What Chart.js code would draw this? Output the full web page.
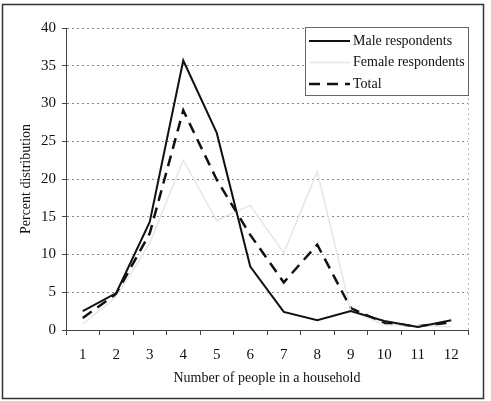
<!DOCTYPE html>
<html>
<head>
<meta charset="utf-8">
<script src="https://cdn.jsdelivr.net/npm/chart.js@4.4.0/dist/chart.umd.min.js"></script>
<style>
  body { margin: 0; background: #fff; }
  #wrap { width: 491px; height: 401px; }
</style>
</head>
<body>
<div id="wrap"><canvas id="myChart" width="491" height="401"></canvas></div>
<script>
// datos
const categorias = ['1', '2', '3', '4', '5', '6', '7', '8', '9', '10', '11', '12'];
const hombres = [2.5, 4.9, 14.3, 35.7, 26.1, 8.4, 2.4, 1.3, 2.5, 1.2, 0.4, 1.3];
const mujeres = [0.8, 4.4, 11.5, 22.5, 14.5, 16.5, 10.2, 21.0, 2.6, 0.7, 0.6, 0.4];
const total = [1.6, 4.8, 12.8, 29.1, 19.9, 12.6, 6.3, 11.3, 2.9, 0.9, 0.5, 1.0];
const yTicks = [0, 5, 10, 15, 20, 25, 30, 35, 40];

const fuente = 'Liberation Serif, Times New Roman, serif';

// leyenda y marco dibujados a mano
const marcoPlugin = {
  id: 'marco',
  afterDraw(chart) {
    const ctx = chart.ctx;
    const area = chart.chartArea;
    ctx.save();
    // marco exterior
    ctx.strokeStyle = '#333';
    ctx.lineWidth = 1.5;
    ctx.strokeRect(2.5, 4.5, 481, 394);
    // borde derecho punteado del area
    ctx.strokeStyle = '#bbb';
    ctx.lineWidth = 1;
    ctx.setLineDash([2, 3]);
    ctx.beginPath();
    ctx.moveTo(area.right + 0.5, area.top);
    ctx.lineTo(area.right + 0.5, area.bottom);
    ctx.stroke();
    ctx.setLineDash([]);

    // leyenda
    const lx = 305, ly = 27, lw = area.right - 305, lh = 68;
    ctx.fillStyle = '#fff';
    ctx.fillRect(lx, ly, lw, lh);
    ctx.strokeStyle = '#666';
    ctx.lineWidth = 1;
    ctx.strokeRect(lx + 0.5, ly + 0.5, lw, lh);
    const items = chart.data.datasets;
    ctx.font = '14px ' + fuente;
    ctx.textBaseline = 'middle';
    items.forEach((ds, i) => {
      const y = ly + 14 + i * 21.5;
      ctx.strokeStyle = ds.borderColor;
      ctx.lineWidth = ds.borderWidth;
      ctx.setLineDash(ds.borderDash || []);
      ctx.beginPath();
      ctx.moveTo(lx + 4, y);
      ctx.lineTo(lx + 45, y);
      ctx.stroke();
      ctx.setLineDash([]);
      ctx.fillStyle = '#111';
      ctx.fillText(ds.label, lx + 48, y);
    });
    ctx.restore();
  }
};

const ctx = document.getElementById('myChart');
new Chart(ctx.getContext('2d'), {
  type: 'line',
  data: {
    labels: categorias,
    datasets: [
      {
        label: 'Male respondents',
        data: hombres,
        borderColor: '#111',
        borderWidth: 2,
        pointRadius: 0,
        tension: 0
      },
      {
        label: 'Female respondents',
        data: mujeres,
        borderColor: '#e6e6e6',
        borderWidth: 1.5,
        pointRadius: 0,
        tension: 0
      },
      {
        label: 'Total',
        data: total,
        borderColor: '#111',
        borderWidth: 2.5,
        borderDash: [11, 7],
        pointRadius: 0,
        tension: 0
      }
    ]
  },
  options: {
    responsive: false,
    animation: false,
    layout: { padding: { left: 0, top: 28, right: 23, bottom: 0 } },
    plugins: {
      legend: { display: false },
      tooltip: { enabled: false }
    },
    scales: {
      x: {
        offset: true,
        grid: {
          offset: true,
          drawOnChartArea: false,
          drawTicks: true,
          tickLength: 5,
          color: '#444'
        },
        border: { color: '#444', width: 1 },
        ticks: {
          color: '#111',
          padding: 11,
          maxRotation: 0,
          font: { family: fuente, size: 15 }
        },
        title: {
          display: true,
          text: 'Number of people in a household',
          color: '#111',
          font: { family: fuente, size: 14 },
          padding: { top: 4, bottom: 14 }
        },
        afterFit(s) { s.height = 71; }
      },
      y: {
        min: 0,
        max: 40,
        afterBuildTicks(s) { s.ticks = yTicks.map(v => ({ value: v })); },
        grid: {
          color: '#888',
          tickLength: 4,
          tickColor: '#444',
          tickBorderDash: []
        },
        border: { color: '#444', width: 1, dash: [2, 3] },
        ticks: {
          color: '#111',
          padding: 6,
          font: { family: fuente, size: 15 }
        },
        title: {
          display: true,
          text: 'Percent distribution',
          color: '#111',
          font: { family: fuente, size: 14 },
          padding: { top: 18, bottom: 4 }
        },
        afterFit(s) { s.width = 66; }
      }
    }
  },
  plugins: [marcoPlugin]
});
</script>
</body>
</html>
